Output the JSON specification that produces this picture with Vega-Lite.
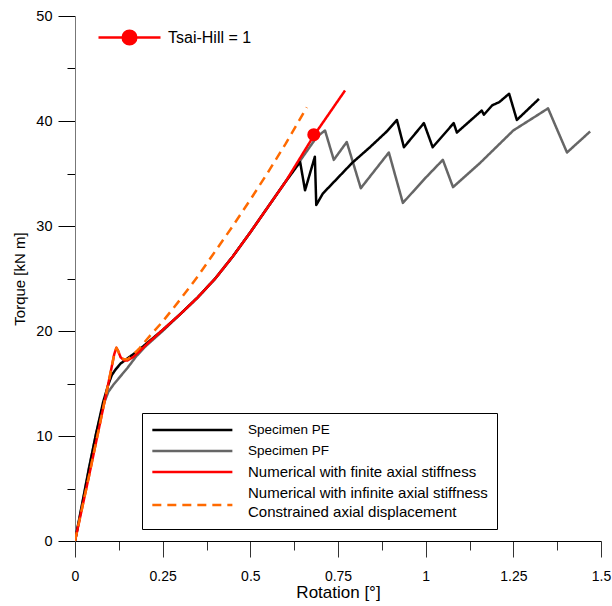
{
  "$schema": "https://vega.github.io/schema/vega-lite/v6.json",
  "width": 526,
  "height": 525,
  "autosize": "none",
  "padding": {"left": 75, "top": 16, "right": 11, "bottom": 65},
  "background": "white",
  "config": {
    "font": "Liberation Sans",
    "view": {"stroke": null},
    "axis": {"grid": false, "labelColor": "#000", "titleColor": "#000", "titleFontWeight": "normal"}
  },
  "datasets": {
    "curves": [
      {"s": "Specimen PF", "x": 0, "y": 0},
      {"s": "Specimen PF", "x": 0.02, "y": 3.5},
      {"s": "Specimen PF", "x": 0.04, "y": 7.0},
      {"s": "Specimen PF", "x": 0.06, "y": 10.2},
      {"s": "Specimen PF", "x": 0.08, "y": 12.9},
      {"s": "Specimen PF", "x": 0.095, "y": 14.2},
      {"s": "Specimen PF", "x": 0.11, "y": 14.9},
      {"s": "Specimen PF", "x": 0.13, "y": 15.7},
      {"s": "Specimen PF", "x": 0.15, "y": 16.5},
      {"s": "Specimen PF", "x": 0.175, "y": 17.6},
      {"s": "Specimen PF", "x": 0.2, "y": 18.5},
      {"s": "Specimen PF", "x": 0.25, "y": 20.0},
      {"s": "Specimen PF", "x": 0.3, "y": 21.6},
      {"s": "Specimen PF", "x": 0.35, "y": 23.2},
      {"s": "Specimen PF", "x": 0.4, "y": 25.0},
      {"s": "Specimen PF", "x": 0.45, "y": 27.1},
      {"s": "Specimen PF", "x": 0.5, "y": 29.4},
      {"s": "Specimen PF", "x": 0.55, "y": 31.8},
      {"s": "Specimen PF", "x": 0.6, "y": 34.2},
      {"s": "Specimen PF", "x": 0.65, "y": 36.6},
      {"s": "Specimen PF", "x": 0.69, "y": 38.5},
      {"s": "Specimen PF", "x": 0.713, "y": 39.1},
      {"s": "Specimen PF", "x": 0.738, "y": 36.3},
      {"s": "Specimen PF", "x": 0.775, "y": 38.0},
      {"s": "Specimen PF", "x": 0.815, "y": 33.6},
      {"s": "Specimen PF", "x": 0.895, "y": 37.0},
      {"s": "Specimen PF", "x": 0.935, "y": 32.2},
      {"s": "Specimen PF", "x": 1.0, "y": 34.6},
      {"s": "Specimen PF", "x": 1.049, "y": 36.3},
      {"s": "Specimen PF", "x": 1.078, "y": 33.7},
      {"s": "Specimen PF", "x": 1.155, "y": 36.0},
      {"s": "Specimen PF", "x": 1.25, "y": 39.1},
      {"s": "Specimen PF", "x": 1.349, "y": 41.2},
      {"s": "Specimen PF", "x": 1.403, "y": 37.0},
      {"s": "Specimen PF", "x": 1.469, "y": 39.0},
      {"s": "Specimen PE", "x": 0, "y": 0},
      {"s": "Specimen PE", "x": 0.02, "y": 3.4},
      {"s": "Specimen PE", "x": 0.04, "y": 6.9},
      {"s": "Specimen PE", "x": 0.06, "y": 10.2},
      {"s": "Specimen PE", "x": 0.08, "y": 13.2},
      {"s": "Specimen PE", "x": 0.095, "y": 14.9},
      {"s": "Specimen PE", "x": 0.105, "y": 15.8},
      {"s": "Specimen PE", "x": 0.115, "y": 16.3},
      {"s": "Specimen PE", "x": 0.13, "y": 16.9},
      {"s": "Specimen PE", "x": 0.15, "y": 17.4},
      {"s": "Specimen PE", "x": 0.175, "y": 18.0},
      {"s": "Specimen PE", "x": 0.2, "y": 18.7},
      {"s": "Specimen PE", "x": 0.25, "y": 20.1},
      {"s": "Specimen PE", "x": 0.3, "y": 21.6},
      {"s": "Specimen PE", "x": 0.35, "y": 23.2},
      {"s": "Specimen PE", "x": 0.4, "y": 25.0},
      {"s": "Specimen PE", "x": 0.45, "y": 27.1},
      {"s": "Specimen PE", "x": 0.5, "y": 29.4},
      {"s": "Specimen PE", "x": 0.55, "y": 31.8},
      {"s": "Specimen PE", "x": 0.6, "y": 34.2},
      {"s": "Specimen PE", "x": 0.642, "y": 36.1},
      {"s": "Specimen PE", "x": 0.656, "y": 33.4},
      {"s": "Specimen PE", "x": 0.684, "y": 36.6},
      {"s": "Specimen PE", "x": 0.688, "y": 32.0},
      {"s": "Specimen PE", "x": 0.707, "y": 33.1},
      {"s": "Specimen PE", "x": 0.75, "y": 34.6},
      {"s": "Specimen PE", "x": 0.79, "y": 36.0},
      {"s": "Specimen PE", "x": 0.841, "y": 37.5},
      {"s": "Specimen PE", "x": 0.889, "y": 39.0},
      {"s": "Specimen PE", "x": 0.918, "y": 40.1},
      {"s": "Specimen PE", "x": 0.938, "y": 37.5},
      {"s": "Specimen PE", "x": 0.995, "y": 39.8},
      {"s": "Specimen PE", "x": 1.02, "y": 37.5},
      {"s": "Specimen PE", "x": 1.08, "y": 39.8},
      {"s": "Specimen PE", "x": 1.089, "y": 38.9},
      {"s": "Specimen PE", "x": 1.16, "y": 41.0},
      {"s": "Specimen PE", "x": 1.166, "y": 40.6},
      {"s": "Specimen PE", "x": 1.19, "y": 41.5},
      {"s": "Specimen PE", "x": 1.21, "y": 41.8},
      {"s": "Specimen PE", "x": 1.238, "y": 42.6},
      {"s": "Specimen PE", "x": 1.26, "y": 40.1},
      {"s": "Specimen PE", "x": 1.323, "y": 42.1},
      {"s": "Numerical with finite axial stiffness", "x": 0, "y": 0},
      {"s": "Numerical with finite axial stiffness", "x": 0.02, "y": 3.1},
      {"s": "Numerical with finite axial stiffness", "x": 0.04, "y": 6.2},
      {"s": "Numerical with finite axial stiffness", "x": 0.06, "y": 9.4},
      {"s": "Numerical with finite axial stiffness", "x": 0.08, "y": 12.6},
      {"s": "Numerical with finite axial stiffness", "x": 0.1, "y": 15.8},
      {"s": "Numerical with finite axial stiffness", "x": 0.112, "y": 17.8},
      {"s": "Numerical with finite axial stiffness", "x": 0.118, "y": 18.4},
      {"s": "Numerical with finite axial stiffness", "x": 0.123, "y": 18.1},
      {"s": "Numerical with finite axial stiffness", "x": 0.13, "y": 17.5},
      {"s": "Numerical with finite axial stiffness", "x": 0.14, "y": 17.2},
      {"s": "Numerical with finite axial stiffness", "x": 0.15, "y": 17.2},
      {"s": "Numerical with finite axial stiffness", "x": 0.165, "y": 17.5},
      {"s": "Numerical with finite axial stiffness", "x": 0.185, "y": 18.1},
      {"s": "Numerical with finite axial stiffness", "x": 0.21, "y": 18.9},
      {"s": "Numerical with finite axial stiffness", "x": 0.25, "y": 20.1},
      {"s": "Numerical with finite axial stiffness", "x": 0.3, "y": 21.6},
      {"s": "Numerical with finite axial stiffness", "x": 0.35, "y": 23.2},
      {"s": "Numerical with finite axial stiffness", "x": 0.4, "y": 25.0},
      {"s": "Numerical with finite axial stiffness", "x": 0.45, "y": 27.1},
      {"s": "Numerical with finite axial stiffness", "x": 0.5, "y": 29.4},
      {"s": "Numerical with finite axial stiffness", "x": 0.55, "y": 31.8},
      {"s": "Numerical with finite axial stiffness", "x": 0.6, "y": 34.2},
      {"s": "Numerical with finite axial stiffness", "x": 0.681, "y": 38.6},
      {"s": "Numerical with finite axial stiffness", "x": 0.77, "y": 42.9},
      {"s": "Numerical with infinite axial stiffness|Constrained axial displacement", "x": 0, "y": 0},
      {"s": "Numerical with infinite axial stiffness|Constrained axial displacement", "x": 0.02, "y": 3.1},
      {"s": "Numerical with infinite axial stiffness|Constrained axial displacement", "x": 0.04, "y": 6.2},
      {"s": "Numerical with infinite axial stiffness|Constrained axial displacement", "x": 0.06, "y": 9.4},
      {"s": "Numerical with infinite axial stiffness|Constrained axial displacement", "x": 0.08, "y": 12.6},
      {"s": "Numerical with infinite axial stiffness|Constrained axial displacement", "x": 0.1, "y": 15.8},
      {"s": "Numerical with infinite axial stiffness|Constrained axial displacement", "x": 0.112, "y": 17.8},
      {"s": "Numerical with infinite axial stiffness|Constrained axial displacement", "x": 0.118, "y": 18.4},
      {"s": "Numerical with infinite axial stiffness|Constrained axial displacement", "x": 0.123, "y": 18.1},
      {"s": "Numerical with infinite axial stiffness|Constrained axial displacement", "x": 0.13, "y": 17.5},
      {"s": "Numerical with infinite axial stiffness|Constrained axial displacement", "x": 0.14, "y": 17.3},
      {"s": "Numerical with infinite axial stiffness|Constrained axial displacement", "x": 0.15, "y": 17.3},
      {"s": "Numerical with infinite axial stiffness|Constrained axial displacement", "x": 0.165, "y": 17.7},
      {"s": "Numerical with infinite axial stiffness|Constrained axial displacement", "x": 0.185, "y": 18.4},
      {"s": "Numerical with infinite axial stiffness|Constrained axial displacement", "x": 0.21, "y": 19.4},
      {"s": "Numerical with infinite axial stiffness|Constrained axial displacement", "x": 0.25, "y": 20.9},
      {"s": "Numerical with infinite axial stiffness|Constrained axial displacement", "x": 0.3, "y": 23.0},
      {"s": "Numerical with infinite axial stiffness|Constrained axial displacement", "x": 0.35, "y": 25.2},
      {"s": "Numerical with infinite axial stiffness|Constrained axial displacement", "x": 0.4, "y": 27.6},
      {"s": "Numerical with infinite axial stiffness|Constrained axial displacement", "x": 0.45, "y": 30.0},
      {"s": "Numerical with infinite axial stiffness|Constrained axial displacement", "x": 0.5, "y": 32.5},
      {"s": "Numerical with infinite axial stiffness|Constrained axial displacement", "x": 0.55, "y": 35.1},
      {"s": "Numerical with infinite axial stiffness|Constrained axial displacement", "x": 0.6, "y": 37.8},
      {"s": "Numerical with infinite axial stiffness|Constrained axial displacement", "x": 0.661, "y": 41.3}
    ],
    "marker": [
      {"label": "Tsai-Hill = 1", "x": 0.681, "y": 38.7}
    ]
  },
  "layer": [
    {
      "data": {"name": "curves"},
      "mark": {"type": "line", "strokeWidth": 2.5, "strokeJoin": "round", "clip": true},
      "encoding": {
        "x": {
          "field": "x", "type": "quantitative",
          "scale": {"domain": [0, 1.5], "nice": false, "zero": false},
          "axis": {
            "values": [0, 0.125, 0.25, 0.375, 0.5, 0.625, 0.75, 0.875, 1, 1.125, 1.25, 1.375, 1.5],
            "tickSize": {"condition": {"test": "abs(datum.value*4-round(datum.value*4))<0.001", "value": 16}, "value": 9},
            "labelExpr": "abs(datum.value*4-round(datum.value*4))<0.001 ? format(datum.value, '~g') : ''",
            "labelFlush": false,
            "labelOverlap": false,
            "labelFontSize": 14,
            "labelPadding": 12,
            "domainColor": "#000",
            "tickColor": "#333",
            "tickWidth": 1,
            "title": "Rotation [°]",
            "titleFontSize": 17,
            "titlePadding": 1
          }
        },
        "y": {
          "field": "y", "type": "quantitative",
          "scale": {"domain": [0, 50], "nice": false, "zero": false},
          "axis": {
            "values": [0, 5, 10, 15, 20, 25, 30, 35, 40, 45, 50],
            "tickSize": {"condition": {"test": "datum.value % 10 === 0", "value": 17}, "value": 8},
            "labelExpr": "datum.value % 10 === 0 ? datum.label : ''",
            "labelOverlap": false,
            "labelFlush": false,
            "labelFontSize": 14.5,
            "labelPadding": 6,
            "domainColor": "#777",
            "tickColor": "#000",
            "title": "Torque [kN m]",
            "titleFontSize": 15,
            "titlePadding": 8
          }
        },
        "stroke": {
          "field": "s", "type": "nominal",
          "scale": {
            "domain": ["Specimen PE", "Specimen PF", "Numerical with finite axial stiffness", "Numerical with infinite axial stiffness|Constrained axial displacement"],
            "range": ["#000000", "#666666", "#ff0000", "#ff6a00"]
          },
          "legend": {
            "title": null,
            "orient": "none",
            "legendX": 67,
            "legendY": 397,
            "padding": 9,
            "strokeColor": "#000",
            "fillColor": "#fff",
            "symbolType": "M-1,0L11,0",
            "symbolSize": 178,
            "symbolStrokeWidth": 2.5,
            "labelExpr": "split(datum.label, '|')",
            "labelFontSize": 15,
            "labelLimit": 400,
            "labelOffset": 81,
            "labelColor": "#000",
            "rowPadding": 6,
            "encode": {
              "labels": {
                "update": {
                  "fontSize": {"signal": "datum.value === 'Specimen PE' || datum.value === 'Specimen PF' ? 13.5 : 15"},
                  "lineHeight": {"value": 19},
                  "dy": {"signal": "datum.value === 'Specimen PE' || datum.value === 'Specimen PF' || datum.value === 'Numerical with finite axial stiffness' ? 0 : -12"}
                }
              }
            }
          }
        },
        "strokeDash": {
          "field": "s", "type": "nominal",
          "scale": {
            "domain": ["Specimen PE", "Specimen PF", "Numerical with finite axial stiffness", "Numerical with infinite axial stiffness|Constrained axial displacement"],
            "range": [[1, 0], [1, 0], [1, 0], [9, 6]]
          },
          "legend": {
            "title": null,
            "orient": "none",
            "legendX": 67,
            "legendY": 397,
            "padding": 9,
            "strokeColor": "#000",
            "fillColor": "#fff",
            "symbolType": "M-1,0L11,0",
            "symbolSize": 178,
            "symbolStrokeWidth": 2.5,
            "labelExpr": "split(datum.label, '|')",
            "labelFontSize": 15,
            "labelLimit": 400,
            "labelOffset": 81,
            "labelColor": "#000",
            "rowPadding": 6
          }
        }
      }
    },
    {
      "data": {"name": "marker"},
      "mark": {"type": "point", "filled": true, "shape": "circle", "size": 170, "opacity": 1},
      "encoding": {
        "x": {"field": "x", "type": "quantitative"},
        "y": {"field": "y", "type": "quantitative"},
        "fill": {
          "field": "label", "type": "nominal",
          "scale": {"domain": ["Tsai-Hill = 1"], "range": ["#ff0000"]},
          "legend": {
            "title": null,
            "orient": "none",
            "legendX": 22,
            "legendY": -11,
            "padding": 0,
            "symbolType": "M-1,0H1M0.22,0A0.22,0.22,0,1,1,-0.22,0A0.22,0.22,0,1,1,0.22,0Z",
            "symbolSize": 3844,
            "symbolStrokeColor": "#ff0000",
            "symbolStrokeWidth": 2.5,
            "symbolFillColor": "#ff0000",
            "labelFontSize": 16,
            "labelOffset": 6,
            "labelColor": "#000",
            "labelLimit": 300,
            "encode": {"symbols": {"update": {"stroke": {"value": "#ff0000"}, "strokeWidth": {"value": 2.5}}}}
          }
        }
      }
    }
  ]
}
